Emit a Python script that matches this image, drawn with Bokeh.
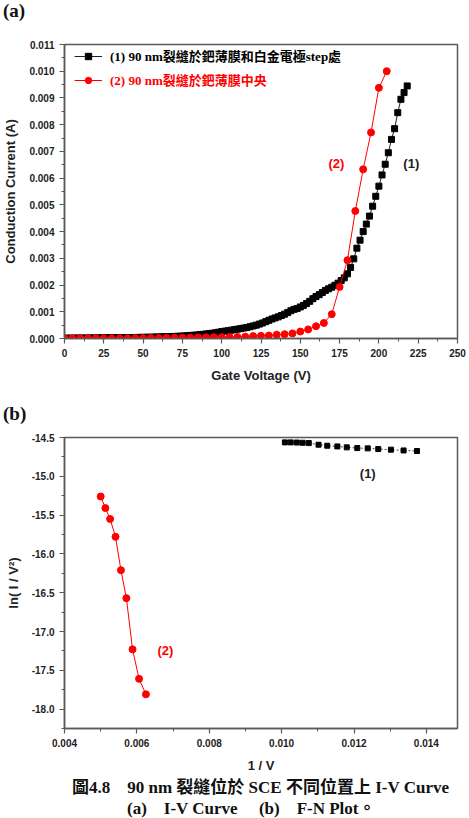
from bokeh.plotting import figure
from bokeh.models import (Range1d, SingleIntervalTicker, PrintfTickFormatter,
                          Legend, LegendItem, Label, Div, ColumnDataSource)
from bokeh.layouts import column
from bokeh.embed import file_html
from bokeh.resources import INLINE

# ---------------- (a) I-V curves ----------------
# (1) crack at Pd film / Pt electrode step: gate voltage (V), current (mA)
gate_v_1 = [0, 2, 4, 6, 8, 10, 12, 14, 16, 18, 20, 22, 24, 26, 28, 30, 32, 34, 36, 38,
            40, 42, 44, 46, 48, 50, 52, 54, 56, 58, 60, 62, 64, 66, 68, 70, 72, 74, 76, 78,
            80, 82, 84, 86, 88, 90, 92, 94, 96, 98, 100, 102, 104, 106, 108, 110, 112, 114, 116, 118,
            120, 122, 124, 126, 128, 130, 132, 134, 136, 138, 140, 142, 144, 146, 148, 150, 152, 154, 156, 158,
            160, 162, 164, 166, 168, 170, 172, 174, 176, 178, 180, 182, 184, 186, 188, 190, 192, 194, 196, 198,
            200, 202, 204, 206, 208, 210, 212, 214, 216, 218]
current_ma_1 = [0.010, 0.012, 0.014, 0.015, 0.016, 0.017, 0.018, 0.019, 0.020, 0.021,
                0.022, 0.023, 0.024, 0.025, 0.026, 0.027, 0.028, 0.029, 0.030, 0.032,
                0.034, 0.036, 0.038, 0.040, 0.042, 0.044, 0.046, 0.049, 0.052, 0.055,
                0.058, 0.061, 0.065, 0.069, 0.073, 0.078, 0.083, 0.089, 0.096, 0.104,
                0.113, 0.122, 0.132, 0.143, 0.155, 0.170, 0.184, 0.198, 0.212, 0.235,
                0.260, 0.275, 0.290, 0.310, 0.330, 0.350, 0.370, 0.390, 0.410, 0.440,
                0.470, 0.500, 0.540, 0.580, 0.630, 0.680, 0.730, 0.770, 0.810, 0.860,
                0.910, 0.970, 1.040, 1.090, 1.120, 1.180, 1.240, 1.310, 1.390, 1.490,
                1.570, 1.640, 1.720, 1.800, 1.860, 1.920, 1.990, 2.070, 2.170, 2.270,
                2.420, 2.660, 2.980, 3.380, 3.680, 4.000, 4.280, 4.580, 4.950, 5.320,
                5.700, 6.120, 6.520, 6.950, 7.450, 7.850, 8.450, 8.950, 9.200, 9.450]

# (2) crack at the centre of the Pd film
gate_v_2 = [0, 5, 10, 15, 20, 25, 30, 35, 40, 45, 50, 55, 60, 65, 70, 75, 80, 85, 90, 95,
            100, 105, 110, 115, 120, 125, 130, 135, 140, 145, 150, 155, 160, 165, 170, 175,
            180, 185, 190, 195, 200, 205]
current_ma_2 = [0.010, 0.010, 0.010, 0.010, 0.010, 0.010, 0.010, 0.010, 0.010, 0.015,
                0.015, 0.020, 0.020, 0.025, 0.030, 0.030, 0.035, 0.040, 0.045, 0.050,
                0.050, 0.060, 0.060, 0.070, 0.090, 0.100, 0.110, 0.140, 0.160, 0.190,
                0.260, 0.340, 0.460, 0.580, 0.910, 1.930, 2.930, 4.770, 6.330, 7.710,
                9.380, 10.000]

# ---------------- (b) F-N plot ----------------
inv_v_1 = [0.01009, 0.01025, 0.01042, 0.01058, 0.01075, 0.01102, 0.01126, 0.01154,
           0.01180, 0.01209, 0.01238, 0.01267, 0.01302, 0.01337, 0.01374]
ln_iv2_1 = [-14.563, -14.563, -14.565, -14.568, -14.572, -14.593, -14.606, -14.615,
            -14.627, -14.636, -14.640, -14.649, -14.657, -14.667, -14.674]

inv_v_2 = [0.00500, 0.00513, 0.00526, 0.00541, 0.00556, 0.00571, 0.00588, 0.00606, 0.00625]
ln_iv2_2 = [-15.26, -15.41, -15.55, -15.78, -16.21, -16.57, -17.23, -17.61, -17.81]

legend_1 = "(1) 90 nm裂縫於鈀薄膜和白金電極step處"
legend_2 = "(2) 90 nm裂縫於鈀薄膜中央"

SANS = "Liberation Sans"
SERIF = "Liberation Serif, Noto Sans CJK TC"
FRAME = "#5a5a5a"
RED = "#ff0000"


def style_axes(p):
    p.outline_line_color = FRAME
    p.outline_line_width = 1.5
    p.grid.visible = False
    p.background_fill_color = "white"
    p.border_fill_color = "white"
    for ax in p.axis:
        ax.axis_line_color = FRAME
        ax.axis_line_width = 1.5
        ax.major_tick_line_color = FRAME
        ax.minor_tick_line_color = FRAME
        ax.major_tick_line_width = 1.2
        ax.major_tick_out = 5
        ax.major_tick_in = 0
        ax.minor_tick_out = 3
        ax.minor_tick_in = 0
        ax.major_label_text_font = SANS
        ax.major_label_text_font_size = "10px"
        ax.major_label_text_font_style = "bold"
        ax.major_label_text_color = "#222222"
        ax.major_label_standoff = 5
        ax.axis_label_text_font = SANS
        ax.axis_label_text_font_size = "13px"
        ax.axis_label_text_font_style = "bold"
        ax.axis_label_text_color = "#222222"
        ax.axis_label_standoff = 8


def panel_tag(text, height, pad_top):
    return Div(
        text=(f'<div style="font-family:\'Liberation Serif\',serif;font-weight:bold;'
              f'font-size:19px;line-height:22px;padding:{pad_top}px 0 0 3px;color:#111;">{text}</div>'),
        width=469, height=height, margin=(0, 0, 0, 0))


# ---------- figure (a) ----------
pa = figure(width=469, height=367, output_backend="svg", toolbar_location=None,
            x_range=Range1d(0, 250), y_range=Range1d(0, 0.011),
            min_border_left=62, min_border_right=12, min_border_top=16, min_border_bottom=57,
            margin=(0, 0, 0, 0))
style_axes(pa)
pa.xaxis.ticker = SingleIntervalTicker(interval=25, num_minor_ticks=2)
pa.yaxis.ticker = SingleIntervalTicker(interval=0.001, num_minor_ticks=2)
pa.yaxis.formatter = PrintfTickFormatter(format="%.3f")
pa.xaxis.axis_label = "Gate Voltage (V)"
pa.yaxis.axis_label = "Conduction Current (A)"

src1 = ColumnDataSource(dict(v=gate_v_1, i=[c * 1e-3 for c in current_ma_1]))
src2 = ColumnDataSource(dict(v=gate_v_2, i=[c * 1e-3 for c in current_ma_2]))

l1 = pa.line("v", "i", source=src1, line_color="#222222", line_width=1)
s1 = pa.scatter("v", "i", source=src1, marker="square", size=6,
                fill_color="black", line_color="black")
l2 = pa.line("v", "i", source=src2, line_color=RED, line_width=1)
s2 = pa.scatter("v", "i", source=src2, marker="circle", size=7,
                fill_color=RED, line_color=RED)

for item_label, rends, color, loc in [(legend_1, [l1, s1], "black", (10, 273)),
                                      (legend_2, [l2, s2], RED, (10, 249))]:
    leg = Legend(items=[LegendItem(label=item_label, renderers=rends)], location=loc,
                 border_line_alpha=0, background_fill_alpha=0, padding=0, margin=0,
                 glyph_width=28, glyph_height=16, label_standoff=8,
                 label_text_font=SERIF, label_text_font_size="13px",
                 label_text_font_style="bold", label_text_color=color)
    pa.add_layout(leg)

pa.add_layout(Label(x=173, y=0.00656, text="(2)", text_align="center", text_baseline="middle",
                    text_font=SANS, text_font_size="13px", text_font_style="bold", text_color=RED))
pa.add_layout(Label(x=220.6, y=0.00656, text="(1)", text_align="center", text_baseline="middle",
                    text_font=SANS, text_font_size="13px", text_font_style="bold", text_color="#222222"))

# ---------- figure (b) ----------
pb = figure(width=469, height=350, output_backend="svg", toolbar_location=None,
            x_range=Range1d(0.004, 0.01486), y_range=Range1d(-18.25, -14.5),
            min_border_left=62, min_border_right=12, min_border_top=12, min_border_bottom=45,
            margin=(0, 0, 0, 0))
style_axes(pb)
pb.xaxis.ticker = SingleIntervalTicker(interval=0.002, num_minor_ticks=2)
pb.xaxis.formatter = PrintfTickFormatter(format="%.3f")
pb.yaxis.ticker = SingleIntervalTicker(interval=0.5, num_minor_ticks=2)
pb.yaxis.formatter = PrintfTickFormatter(format="%.1f")
pb.xaxis.axis_label = "1 / V"
pb.yaxis.axis_label = "ln( I / V²)"

fn1 = ColumnDataSource(dict(x=inv_v_1, y=ln_iv2_1))
fn2 = ColumnDataSource(dict(x=inv_v_2, y=ln_iv2_2))
pb.line("x", "y", source=fn1, line_color="#444444", line_width=1, line_dash="2 2")
pb.scatter("x", "y", source=fn1, marker="square", size=5, fill_color="black", line_color="black")
pb.line("x", "y", source=fn2, line_color=RED, line_width=1)
pb.scatter("x", "y", source=fn2, marker="circle", size=7, fill_color=RED, line_color=RED)

pb.add_layout(Label(x=0.01238, y=-14.97, text="(1)", text_align="center", text_baseline="middle",
                    text_font=SANS, text_font_size="13px", text_font_style="bold", text_color="#222222"))
pb.add_layout(Label(x=0.00679, y=-17.25, text="(2)", text_align="center", text_baseline="middle",
                    text_font=SANS, text_font_size="13px", text_font_style="bold", text_color=RED))

# ---------- caption ----------
caption = Div(
    text=('<div style="font-family:\'Liberation Serif\',\'Noto Sans CJK TC\',serif;'
          'font-weight:bold;font-size:17px;line-height:21px;white-space:pre;padding-top:2px;color:#111;">'
          '<div style="padding-left:72px">圖4.8　90 nm 裂縫位於 SCE 不同位置上 I-V Curve</div>'
          '<div style="padding-left:127px">(a)　I-V Curve　 (b)　F-N Plot。</div></div>'),
    width=469, height=43, margin=(0, 0, 0, 0), styles={"overflow": "hidden"})

layout = column(panel_tag("(a)", 28, 0), pa, panel_tag("(b)", 30, 8), pb, caption, spacing=0)
open("out.html", "w").write(file_html(layout, INLINE))
